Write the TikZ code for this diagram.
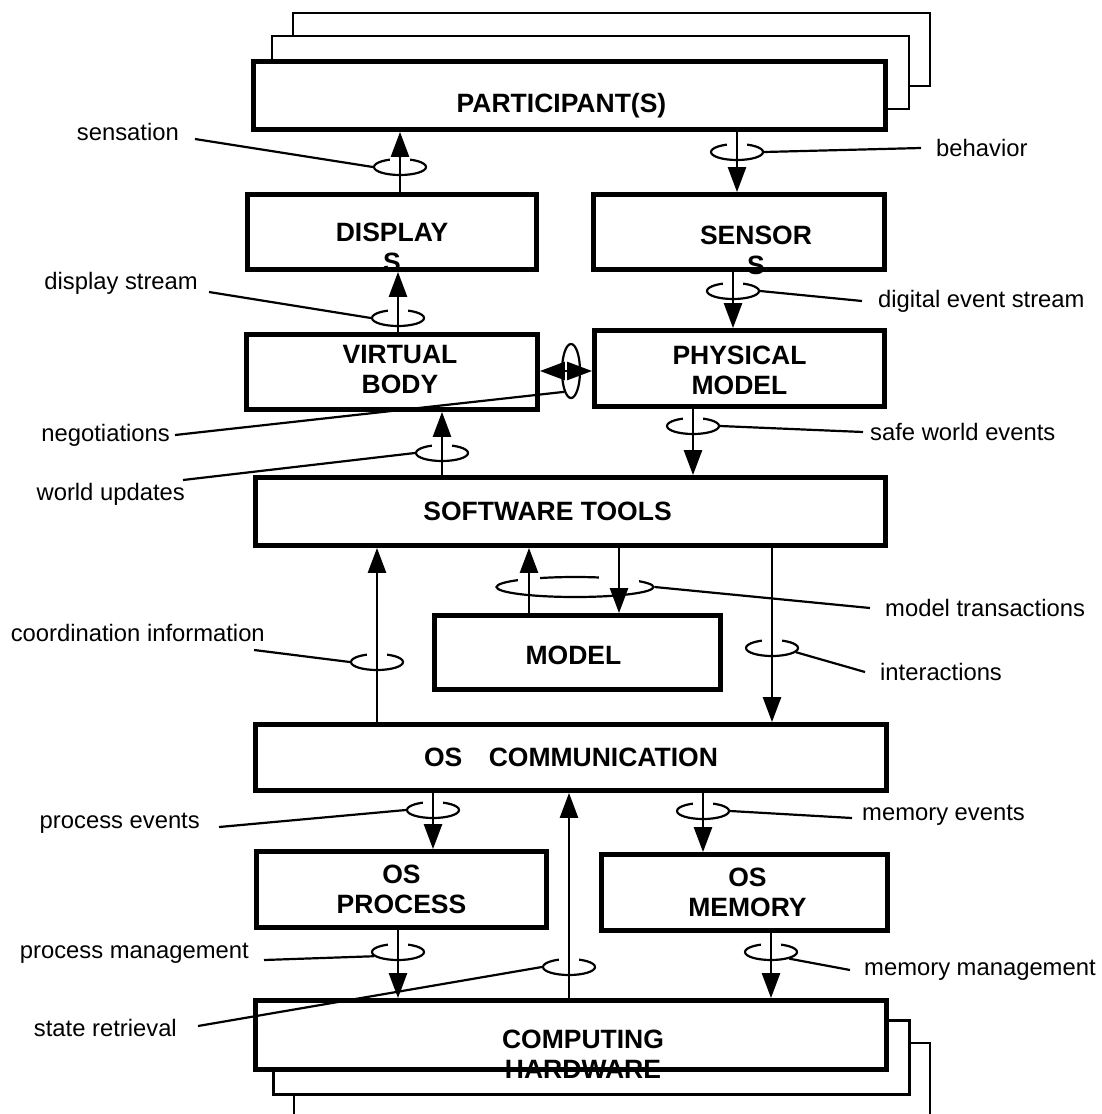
\documentclass[tikz,border=0pt]{standalone}
\usepackage{fontspec}
\setmainfont{Liberation Sans}
\usetikzlibrary{arrows.meta,shapes.geometric,backgrounds}
\newcommand\lblfont{\fontsize{23.8pt}{28pt}\selectfont}
\newcommand\boxfont{\fontsize{26.5pt}{30pt}\selectfont\bfseries}
% white break in the back half of a ring
\newcommand\ringgap[2][10]{\fill[white] ([xshift=-#1pt,yshift=-4pt]#2.north) rectangle ([xshift=#1pt,yshift=4pt]#2.north);}

\begin{document}
\begin{tikzpicture}[x=1pt, y=-1pt,
  box/.style={draw, line width=4.8pt, fill=white, inner sep=0pt},
  back/.style={draw, line width=2.5pt, fill=white},
  btxt/.style={font=\boxfont, align=center, inner sep=0pt},
  ring/.style={draw, ellipse, line width=2.2pt, minimum width=52pt, minimum height=16pt, inner sep=0pt},
  arr/.style={-{Triangle[length=25pt,width=18pt]}, line width=2.6pt},
  dbl/.style={{Triangle[length=25pt,width=18pt]}-{Triangle[length=25pt,width=18pt]}, line width=2.6pt},
  lead/.style={line width=2.2pt},
  lbl/.style={font=\lblfont, inner sep=0pt}
]
\useasboundingbox (0,0) rectangle (1101,1114);

% boxes
\node[box, minimum width=632pt, minimum height=68pt, label={[btxt, xshift=-8pt, yshift=-10pt]center:PARTICIPANT(S)}] (part) at (569.5,95.5) {};
\node[box, minimum width=289pt, minimum height=75pt, label={[btxt, yshift=-15pt]center:DISPLAY\\S}] (displays) at (392,232) {};
\node[box, minimum width=291pt, minimum height=75pt, label={[btxt, xshift=17pt, yshift=-18pt]center:SENSOR\\S}] (sensors) at (739,232) {};
\node[box, minimum width=291pt, minimum height=75pt, label={[btxt, xshift=8pt, yshift=2pt]center:VIRTUAL\\BODY}] (vbody) at (392,372) {};
\node[box, minimum width=290pt, minimum height=76pt, label={[btxt, yshift=-2pt]center:PHYSICAL\\MODEL}] (phys) at (739.5,368.5) {};
\node[box, minimum width=630pt, minimum height=68pt, label={[btxt, xshift=-23pt]center:SOFTWARE TOOLS}] (tools) at (570.5,511.5) {};
\node[box, minimum width=286pt, minimum height=74pt, label={[btxt, xshift=-4pt, yshift=-3pt]center:MODEL}] (model) at (577.5,652.5) {};
\node[box, minimum width=631pt, minimum height=66pt, label={[btxt]center:OS\quad COMMUNICATION}] (oscomm) at (571,757.5) {};
\node[box, minimum width=290pt, minimum height=76pt, label={[btxt]center:OS\\PROCESS}] (osproc) at (401.5,889.5) {};
\node[box, minimum width=286pt, minimum height=76pt, label={[btxt, xshift=3pt]center:OS\\MEMORY}] (osmem) at (744.5,892.5) {};
\node[box, minimum width=631pt, minimum height=69pt, label={[btxt, xshift=12pt, yshift=-19pt]center:COMPUTING\\HARDWARE}] (hw) at (571,1035) {};

\begin{scope}[on background layer]
\foreach \s in {2,1} {
  \draw[back] ([shift={(21*\s,-23*\s)}]part.south west) rectangle ([shift={(21*\s,-23*\s)}]part.north east);
  \draw[back] ([shift={(20.5*\s,22.5*\s)}]hw.south west) rectangle ([shift={(20.5*\s,22.5*\s)}]hw.north east);
}
\end{scope}

% rings
\node[ring] (r-sens) at (400,167) {};
\node[ring] (r-beh) at (737,152) {};
\node[ring] (r-disp) at (398,318) {};
\node[ring] (r-dig) at (733,291) {};
\node[ring, minimum width=18pt, minimum height=54pt] (r-neg) at (571,371) {};
\node[ring] (r-world) at (442,453) {};
\node[ring] (r-safe) at (693,426) {};
\node[ring] (r-coord) at (377,662) {};
\node[ring, minimum width=157pt, minimum height=20pt] (r-model) at (575,587) {};
\node[ring] (r-inter) at (772,648) {};
\node[ring] (r-pev) at (433,810) {};
\node[ring] (r-pmg) at (398,952) {};
\node[ring] (r-state) at (569,967) {};
\node[ring] (r-mev) at (703,811) {};
\node[ring] (r-mmg) at (771,952) {};
\coordinate (up-x) at (529,600);
\coordinate (dn-x) at (619,600);

\foreach \r in {r-sens,r-beh,r-disp,r-dig,r-world,r-safe,r-coord,r-inter,r-pev,r-pmg,r-state,r-mev,r-mmg}
  \ringgap{\r};
\fill[white] ([xshift=-4pt,yshift=-8pt]r-neg.west) rectangle ([xshift=4pt,yshift=8pt]r-neg.west);
\fill[white] (518,573) rectangle (540,583);
\fill[white] (599,573) rectangle (639,584);

% flows
\draw[arr] (displays.north -| r-sens) -- (part.south -| r-sens);
\draw[arr] (part.south -| r-beh) -- (sensors.north -| r-beh);
\draw[arr] (vbody.north -| r-disp) -- (displays.south -| r-disp);
\draw[arr] (sensors.south -| r-dig) -- (phys.north -| r-dig);
\draw[dbl] (vbody.east |- r-neg) -- (phys.west |- r-neg);
\draw[arr] (tools.north -| r-world) -- (vbody.south -| r-world);
\draw[arr] (phys.south -| r-safe) -- (tools.north -| r-safe);
\draw[arr] (oscomm.north -| r-coord) -- (tools.south -| r-coord);
\draw[arr] (model.north -| up-x) -- (tools.south -| up-x);
\draw[arr] (tools.south -| dn-x) -- (model.north -| dn-x);
\draw[arr] (tools.south -| r-inter) -- (oscomm.north -| r-inter);
\draw[arr] (oscomm.south -| r-pev) -- (osproc.north -| r-pev);
\draw[arr] (osproc.south -| r-pmg) -- (hw.north -| r-pmg);
\draw[arr] (hw.north -| r-state) -- (oscomm.south -| r-state);
\draw[arr] (oscomm.south -| r-mev) -- (osmem.north -| r-mev);
\draw[arr] (osmem.south -| r-mmg) -- (hw.north -| r-mmg);

% labels
\node[lbl, anchor=east] (t-sens) at (179,132) {sensation};
\node[lbl, anchor=east] (t-disp) at (198,283) {display stream};
\node[lbl, anchor=east] (t-neg) at (170,435) {negotiations};
\node[lbl, anchor=east] (t-world) at (185,494) {world updates};
\node[lbl, anchor=east] (t-coord) at (265,633) {coordination information};
\node[lbl, anchor=east] (t-pev) at (200,823) {process events};
\node[lbl, anchor=east] (t-pmg) at (249,953) {process management};
\node[lbl, anchor=east] (t-state) at (177,1028) {state retrieval};
\node[lbl, anchor=west] (t-beh) at (936,148) {behavior};
\node[lbl, anchor=west] (t-dig) at (878,301) {digital event stream};
\node[lbl, anchor=west] (t-safe) at (870,432) {safe world events};
\node[lbl, anchor=west] (t-model) at (885,608) {model transactions};
\node[lbl, anchor=west] (t-inter) at (880,672) {interactions};
\node[lbl, anchor=west] (t-mev) at (862,815) {memory events};
\node[lbl, anchor=west] (t-mmg) at (864,970) {memory management};

\draw[lead] ([shift={(16,7)}]t-sens.east) -- (r-sens.west);
\draw[lead] ([shift={(11,9)}]t-disp.east) -- (r-disp.west);
\draw[lead] ([shift={(5,0)}]t-neg.east) -- (r-neg.252);
\draw[lead] ([shift={(-2,-14)}]t-world.east) -- (r-world.west);
\draw[lead] ([shift={(-11,17)}]t-coord.east) -- (r-coord.west);
\draw[lead] ([shift={(19,4)}]t-pev.east) -- (r-pev.west);
\draw[lead] ([shift={(15,7)}]t-pmg.east) -- (r-pmg.190);
\draw[lead] ([shift={(21,-2)}]t-state.east) -- (r-state.west);
\draw[lead] ([shift={(-15,0)}]t-beh.west) -- (r-beh.east);
\draw[lead] ([shift={(-16,0)}]t-dig.west) -- (r-dig.east);
\draw[lead] ([shift={(-7,0)}]t-safe.west) -- (r-safe.east);
\draw[lead] ([shift={(-15,0)}]t-model.west) -- (r-model.east);
\draw[lead] ([shift={(-15,0)}]t-inter.west) -- (r-inter.-10);
\draw[lead] ([shift={(-10,3)}]t-mev.west) -- (r-mev.east);
\draw[lead] ([shift={(-14,0)}]t-mmg.west) -- (r-mmg.-20);
\end{tikzpicture}
\end{document}
